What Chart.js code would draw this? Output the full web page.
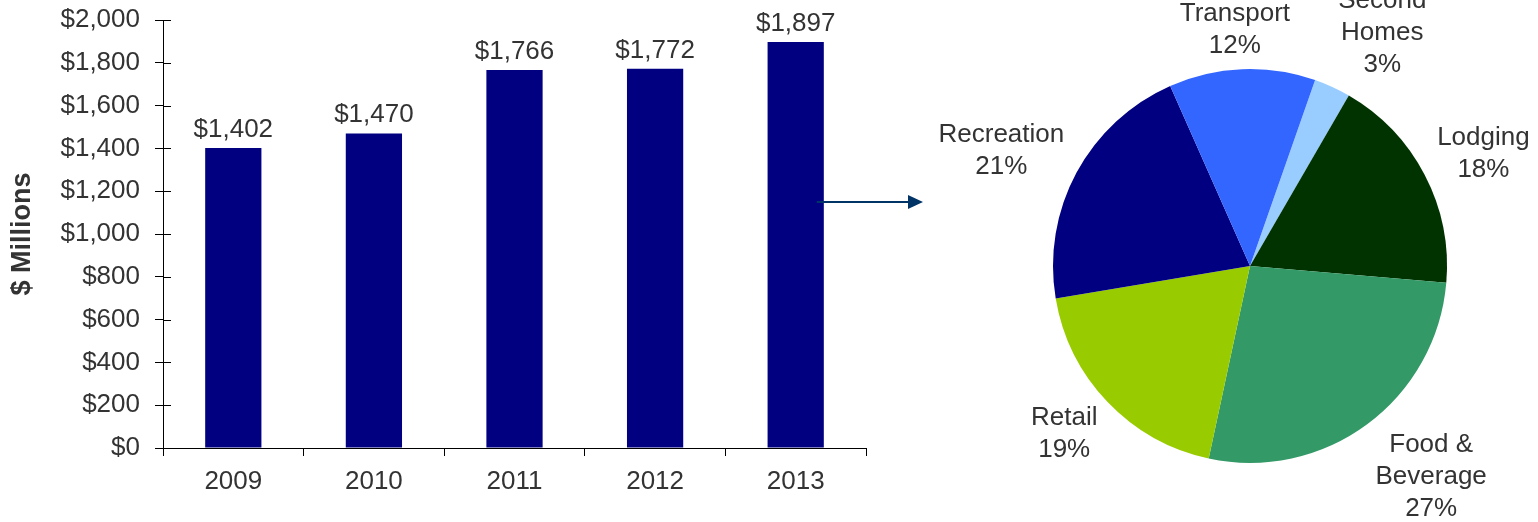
<!DOCTYPE html>
<html>
<head>
<meta charset="utf-8">
<title>Spending by Year and Sector</title>
<script src="https://cdn.jsdelivr.net/npm/chart.js@4.4.1/dist/chart.umd.min.js"></script>
<style>
  html, body { margin: 0; padding: 0; background: #fff; }
  #wrap { position: relative; width: 1538px; height: 522px; }
  #barBox { position: absolute; left: 0; top: 0; width: 930px; height: 522px; }
  #pieBox { position: absolute; left: 930px; top: 0; width: 608px; height: 522px; }
</style>
</head>
<body>
<div id="wrap">
  <div id="barBox"><canvas id="spendingBar"></canvas></div>
  <div id="pieBox"><canvas id="sectorPie"></canvas></div>
</div>
<script>
// Annual spending, $ millions
const years = ['2009', '2010', '2011', '2012', '2013'];
const spending = [1402, 1470, 1766, 1772, 1897];

// 2013 split by sector (percent)
const sectors = ['Second Homes', 'Lodging', 'Food & Beverage', 'Retail', 'Recreation', 'Transport'];
const sectorLines = [['Second', 'Homes'], ['Lodging'], ['Food &', 'Beverage'], ['Retail'], ['Recreation'], ['Transport']];
const sectorShares = [3, 18, 27, 19, 21, 12];
const sectorColors = ['#99CCFF', '#003300', '#339966', '#99CC00', '#000080', '#3366FF'];

const FONT = '"Liberation Sans", Arial, sans-serif';
const TEXT = '#333333';
Chart.defaults.font.family = FONT;
Chart.defaults.color = TEXT;

const money = v => '$' + v.toLocaleString('en-US');

// Value labels above each bar
const barValueLabels = {
    id: 'barValueLabels',
    afterDatasetsDraw(chart) {
        const { ctx } = chart;
        const meta = chart.getDatasetMeta(0);
        ctx.save();
        ctx.font = '26px ' + FONT;
        ctx.fillStyle = TEXT;
        ctx.textAlign = 'center';
        ctx.textBaseline = 'alphabetic';
        meta.data.forEach((bar, i) => {
            ctx.fillText(money(spending[i]), bar.x, bar.y - 11);
        });
        ctx.restore();
    }
};

// Y ticks cross the axis: draw the inner half of each tick
const innerTicks = {
    id: 'innerTicks',
    afterDraw(chart) {
        const { ctx } = chart;
        const y = chart.scales.y;
        ctx.save();
        ctx.strokeStyle = '#000';
        ctx.lineWidth = 1;
        y.ticks.forEach(t => {
            const py = Math.round(y.getPixelForValue(t.value)) + 0.5;
            ctx.beginPath();
            ctx.moveTo(y.right, py);
            ctx.lineTo(y.right + 8, py);
            ctx.stroke();
        });
        ctx.restore();
    }
};

// Arrow from the 2013 bar towards the pie
const arrowToPie = {
    id: 'arrowToPie',
    afterDraw(chart) {
        const { ctx } = chart;
        const last = chart.getDatasetMeta(0).data[spending.length - 1];
        const x0 = last.x + last.width / 2 - 7;
        const x1 = chart.width - 7;
        const y = 202;
        ctx.save();
        ctx.strokeStyle = '#003366';
        ctx.fillStyle = '#003366';
        ctx.lineWidth = 2;
        ctx.beginPath();
        ctx.moveTo(x0, y);
        ctx.lineTo(x1 - 12, y);
        ctx.stroke();
        ctx.beginPath();
        ctx.moveTo(x1, y);
        ctx.lineTo(x1 - 15, y - 7);
        ctx.lineTo(x1 - 15, y + 7);
        ctx.closePath();
        ctx.fill();
        ctx.restore();
    }
};

// Category name and share placed just outside each slice
const sliceLabels = {
    id: 'sliceLabels',
    afterDraw(chart) {
        const { ctx } = chart;
        const lineH = 32;
        const capH = 18;
        const gap = 14;
        const clamp = t => Math.max(-1, Math.min(1, t));
        ctx.save();
        ctx.font = '26px ' + FONT;
        ctx.fillStyle = TEXT;
        ctx.textAlign = 'center';
        ctx.textBaseline = 'middle';
        chart.getDatasetMeta(0).data.forEach((arc, i) => {
            const lines = sectorLines[i].concat([sectorShares[i] + '%']);
            const mid = (arc.startAngle + arc.endAngle) / 2;
            const ux = Math.cos(mid), uy = Math.sin(mid);
            const hw = Math.max(...lines.map(s => ctx.measureText(s).width)) / 2;
            const hh = ((lines.length - 1) * lineH + capH) / 2;
            const r = arc.outerRadius + gap;
            const cx = arc.x + ux * r + clamp(ux * 3) * hw;
            const cy = arc.y + uy * r + clamp(uy * 1.25) * hh;
            lines.forEach((s, j) => {
                ctx.fillText(s, cx, cy + (j - (lines.length - 1) / 2) * lineH);
            });
        });
        ctx.restore();
    }
};

new Chart(document.getElementById('spendingBar'), {
    type: 'bar',
    data: {
        labels: years,
        datasets: [{
            data: spending,
            backgroundColor: '#000080',
            categoryPercentage: 0.4,
            barPercentage: 1
        }]
    },
    options: {
        responsive: true,
        maintainAspectRatio: false,
        animation: false,
        layout: { padding: { left: 0, top: 20, right: 64, bottom: 0 } },
        plugins: { legend: { display: false }, tooltip: { enabled: false } },
        scales: {
            x: {
                offset: true,
                grid: { offset: true, drawOnChartArea: false, tickLength: 8, color: '#000' },
                border: { color: '#000', width: 1 },
                ticks: { font: { size: 26 }, padding: 10, color: TEXT },
                afterFit(s) { s.height = 74; }
            },
            y: {
                min: 0,
                max: 2000,
                ticks: { stepSize: 200, font: { size: 26 }, padding: 15, color: TEXT, callback: v => money(v) },
                grid: { drawOnChartArea: false, tickLength: 8, color: '#000' },
                border: { color: '#000', width: 1 },
                title: { display: true, text: '$ Millions', font: { size: 27, weight: 'bold' }, color: TEXT, padding: { top: 6, bottom: 0 } },
                afterFit(s) {
                    s.width = 163;
                    // label padding shouldn't push the plot down
                    s.paddingTop = 0;
                    s.paddingBottom = 0;
                }
            }
        }
    },
    plugins: [barValueLabels, innerTicks, arrowToPie]
});

new Chart(document.getElementById('sectorPie'), {
    type: 'pie',
    data: {
        labels: sectors,
        datasets: [{
            data: sectorShares,
            backgroundColor: sectorColors,
            borderWidth: 0
        }]
    },
    options: {
        responsive: true,
        maintainAspectRatio: false,
        animation: false,
        rotation: 19.3,
        layout: { padding: { left: 123, right: 91, top: 69, bottom: 59 } },
        plugins: { legend: { display: false }, tooltip: { enabled: false } }
    },
    plugins: [sliceLabels]
});
</script>
</body>
</html>
